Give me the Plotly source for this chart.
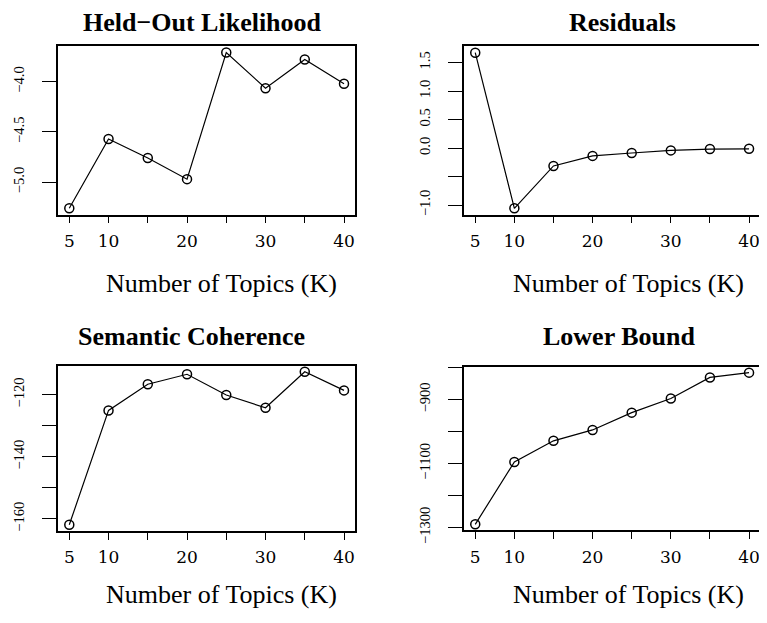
import plotly.graph_objects as go

# The page body has an 8px margin, so the figure is made 8px smaller and all
# pixel positions below are given in window coordinates and shifted by OFF.
OFF = 8
W, H = 767 - OFF, 623 - OFF

# ---- data ----
K = [5, 10, 15, 20, 25, 30, 35, 40]
heldout = [-5.26, -4.57, -4.76, -4.97, -3.71, -4.065, -3.78, -4.02]
residuals = [1.673, -1.056, -0.313, -0.137, -0.086, -0.040, -0.017, -0.012]
semcoh = [-161.9, -125.05, -116.6, -113.4, -120.1, -124.2, -112.6, -118.6]
lbound = [-1290, -1095, -1029, -995, -941, -897, -831, -816]

titles = ["Held\u2212Out Likelihood", "Residuals", "Semantic Coherence", "Lower Bound"]
xlab = "Number of Topics (K)"

x_tickvals = [5, 10, 15, 20, 25, 30, 35, 40]
x_ticktext = ["5", "10", "", "20", "", "30", "", "40"]

y_ticks = [
    ([-5.0, -4.5, -4.0], ["\u22125.0", "\u22124.5", "\u22124.0"]),
    ([-1.0, -0.5, 0.0, 0.5, 1.0, 1.5], ["\u22121.0", "", "0.0", "0.5", "1.0", "1.5"]),
    ([-160, -150, -140, -130, -120], ["\u2212160", "", "\u2212140", "", "\u2212120"]),
    ([-1300, -1200, -1100, -1000, -900, -800], ["\u22121300", "", "\u22121100", "", "\u2212900", ""]),
]
y_ranges = [[-5.322, -3.644], [-1.165, 1.782], [-163.9, -110.6], [-1309, -797]]
series = [heldout, residuals, semcoh, lbound]

# panel boxes in window pixels: (left, right, top, bottom)
boxes = [
    (58.3, 355.0, 46.7, 219.0),
    (464.3, 760.0, 47.3, 219.0),
    (58.3, 355.0, 373.3, 542.3),
    (464.3, 760.0, 374.3, 541.7),
]
title_pos = [(202.5, 22.5), (622.0, 22.5), (191.0, 344.0), (619.0, 344.0)]
xlab_pos = [(221.7, 289.0), (628.0, 289.0), (221.5, 607.5), (628.0, 607.5)]


def px(x):
    return (x - OFF) / W


def py(y):
    return 1 - (y - OFF) / H


fig = go.Figure()
layout = dict(
    width=W, height=H, margin=dict(l=0, r=0, t=0, b=0),
    paper_bgcolor="white", plot_bgcolor="white", showlegend=False,
    font=dict(family="Liberation Serif", color="black"),
)

annotations = []
for i in range(4):
    n = "" if i == 0 else str(i + 1)
    l, r, t, b = boxes[i]
    fig.add_trace(go.Scatter(
        x=K, y=series[i], mode="lines+markers",
        line=dict(color="black", width=1.2),
        marker=dict(symbol="circle-open", size=9, color="black", line=dict(width=1.5)),
        xaxis="x" + n, yaxis="y" + n, hoverinfo="x+y",
    ))
    layout["xaxis" + n] = dict(
        domain=[px(l), px(r)], anchor="y" + n, range=[3.6, 41.4],
        tickmode="array", tickvals=x_tickvals, ticktext=x_ticktext,
        ticks="outside", ticklen=7, tickwidth=1.3, tickcolor="black",
        showline=True, mirror=True, linecolor="black", linewidth=1.5,
        showgrid=False, zeroline=False,
        tickfont=dict(family="DejaVu Serif", size=17, color="black"),
        ticklabelstandoff=3,
    )
    yt, ytt = y_ticks[i]
    layout["yaxis" + n] = dict(
        domain=[py(b), py(t)], anchor="x" + n, range=y_ranges[i],
        tickmode="array", tickvals=yt, ticktext=ytt,
        ticks="outside", ticklen=15, tickwidth=1.3, tickcolor="black",
        showline=True, mirror=True, linecolor="black", linewidth=1.5,
        showgrid=False, zeroline=False, tickangle=-90,
        tickfont=dict(family="Liberation Serif", size=14.5, color="black"),
        ticklabelstandoff=12,
    )
    tx, ty = title_pos[i]
    annotations.append(dict(
        text="<b>" + titles[i] + "</b>", x=px(tx), y=py(ty), xref="paper", yref="paper",
        xanchor="center", yanchor="middle", showarrow=False,
        font=dict(family="Liberation Serif", size=26, color="black"),
    ))
    lx, ly = xlab_pos[i]
    annotations.append(dict(
        text=xlab, x=px(lx), y=py(ly), xref="paper", yref="paper",
        xanchor="center", yanchor="middle", showarrow=False,
        font=dict(family="Liberation Serif", size=26, color="black"),
    ))

layout["annotations"] = annotations
fig.update_layout(**layout)
fig.write_html("out.html")
